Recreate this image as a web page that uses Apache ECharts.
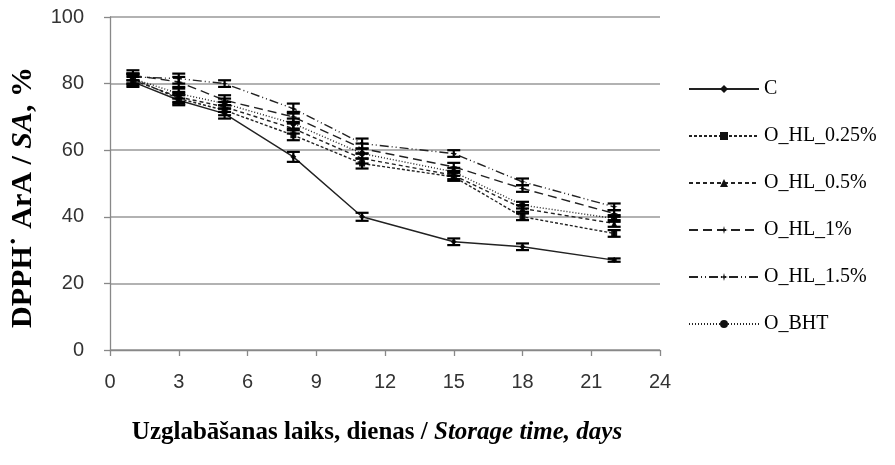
<!DOCTYPE html>
<html>
<head>
<meta charset="utf-8">
<script src="https://cdn.jsdelivr.net/npm/echarts@6/dist/echarts.min.js"></script>
<style>
  html, body { margin: 0; padding: 0; background: #fff; }
  #chart { width: 895px; height: 465px; }
</style>
</head>
<body>
<div id="chart"></div>
<script>
// Storage days
const days = [1, 3, 5, 8, 11, 15, 18, 22];

// DPPH radical scavenging activity, %
const valC     = [80.5, 75.0, 71.0, 58.0, 40.0, 32.5, 31.0, 27.0];
const valHL025 = [81.5, 75.5, 72.0, 64.5, 56.0, 52.0, 40.0, 35.0];
const valHL05  = [81.0, 76.0, 73.0, 66.5, 57.5, 52.5, 42.5, 38.0];
const valHL1   = [82.5, 80.5, 75.0, 70.0, 60.5, 55.0, 48.5, 41.0];
const valHL15  = [82.0, 81.5, 80.0, 72.5, 62.0, 59.0, 50.5, 43.0];
const valBHT   = [81.5, 77.0, 74.0, 68.0, 59.0, 53.5, 43.5, 39.5];

// Standard deviations
const errC     = [1.5, 1.5, 1.5, 1.5, 1.2, 1.0, 1.0, 0.5];
const errHL025 = [1.5, 1.5, 1.5, 1.5, 1.5, 1.2, 1.0, 1.0];
const errHL05  = [1.5, 1.5, 1.5, 1.5, 1.5, 1.2, 1.0, 1.0];
const errHL1   = [1.5, 1.5, 1.5, 1.5, 1.5, 1.2, 1.0, 1.0];
const errHL15  = [1.0, 1.5, 1.0, 1.5, 1.5, 1.0, 1.0, 1.0];
const errBHT   = [1.5, 1.5, 1.5, 1.5, 1.5, 1.2, 1.0, 1.0];

// Axis ticks
const xTicks = [0, 3, 6, 9, 12, 15, 18, 21, 24];
const yTicks = [0, 20, 40, 60, 80, 100];

const names = ['C', 'O_HL_0.25%', 'O_HL_0.5%', 'O_HL_1%', 'O_HL_1.5%', 'O_BHT'];

const starPath = 'path://M5,0 L6,4 L10,5 L6,6 L5,10 L4,6 L0,5 L4,4 Z';
const groups = [
  { name: names[0], vals: valC,     errs: errC,     symbol: 'diamond',  size: 6, dash: 'solid' },
  { name: names[1], vals: valHL025, errs: errHL025, symbol: 'rect',     size: 6, dash: [3, 2] },
  { name: names[2], vals: valHL05,  errs: errHL05,  symbol: 'triangle', size: 6, dash: [4, 3] },
  { name: names[3], vals: valHL1,   errs: errHL1,   symbol: starPath,   size: 8, dash: [9, 5] },
  { name: names[4], vals: valHL15,  errs: errHL15,  symbol: starPath,   size: 7, dash: [9, 3, 1, 3, 1, 3] },
  { name: names[5], vals: valBHT,   errs: errBHT,   symbol: 'circle',   size: 6, dash: [1, 2] }
];

// Vertical error bar with caps
function renderErr(params, api) {
  const x = api.value(0);
  const lo = api.coord([x, api.value(1)]);
  const hi = api.coord([x, api.value(2)]);
  const w = 6.5;
  const st = { stroke: '#000', lineWidth: 2.2 };
  return {
    type: 'group',
    children: [
      { type: 'line', shape: { x1: lo[0], y1: lo[1], x2: hi[0], y2: hi[1] }, style: st },
      { type: 'line', shape: { x1: lo[0] - w, y1: lo[1], x2: lo[0] + w, y2: lo[1] }, style: st },
      { type: 'line', shape: { x1: hi[0] - w, y1: hi[1], x2: hi[0] + w, y2: hi[1] }, style: st }
    ]
  };
}

const series = [];
groups.forEach(g => {
  series.push({
    name: g.name,
    type: 'line',
    data: days.map((d, i) => [d, g.vals[i]]),
    symbol: g.symbol,
    symbolSize: g.size,
    itemStyle: { color: '#111' },
    lineStyle: { color: '#222', width: 1.4, type: g.dash },
    z: 3
  });
  series.push({
    type: 'custom',
    renderItem: renderErr,
    data: days.map((d, i) => [d, g.vals[i] - g.errs[i], g.vals[i] + g.errs[i]]),
    encode: { x: 0, y: [1, 2] },
    z: 4,
    silent: true
  });
});

const titleRich = {
  b:  { fontFamily: 'Liberation Serif', fontWeight: 'bold', color: '#000' },
  bi: { fontFamily: 'Liberation Serif', fontWeight: 'bold', fontStyle: 'italic', color: '#000' }
};

const chart = echarts.init(document.getElementById('chart'), null, { renderer: 'canvas' });
chart.setOption({
  animation: false,
  backgroundColor: '#fff',
  grid: { left: 108, right: 235, top: 17, bottom: 115 },
  legend: {
    data: names,
    orient: 'vertical',
    left: 683,
    top: 74,
    itemWidth: 70,
    itemHeight: 10,
    itemGap: 27,
    textStyle: { fontFamily: 'Liberation Serif', fontSize: 20, color: '#000' }
  },
  xAxis: {
    type: 'value',
    min: xTicks[0],
    max: xTicks[xTicks.length - 1],
    interval: xTicks[1] - xTicks[0],
    axisLine: { show: true, lineStyle: { color: '#888', width: 1.3 } },
    axisTick: { show: true, length: 6, lineStyle: { color: '#888', width: 1.3 } },
    splitLine: { show: false },
    axisLabel: { fontFamily: 'Liberation Sans', fontSize: 20, color: '#333', margin: 22 },
    name: '{b|Uzglabāšanas laiks, dienas / }{bi|Storage time, days}',
    nameLocation: 'middle',
    nameGap: 70,
    nameTextStyle: {
      padding: [0, 16, 0, 0],
      rich: {
        b:  Object.assign({ fontSize: 25 }, titleRich.b),
        bi: Object.assign({ fontSize: 25 }, titleRich.bi)
      }
    }
  },
  yAxis: {
    type: 'value',
    min: yTicks[0],
    max: yTicks[yTicks.length - 1],
    interval: yTicks[1] - yTicks[0],
    axisLine: { show: true, lineStyle: { color: '#888', width: 1.3 } },
    axisTick: { show: true, inside: false, length: 6, lineStyle: { color: '#888', width: 1.3 } },
    splitLine: { show: true, lineStyle: { color: '#999', width: 1.5 } },
    axisLabel: { fontFamily: 'Liberation Sans', fontSize: 20, color: '#333', margin: 26 },
    name: '{b|DPPH˙ ArA / }{bi|SA}{b|, %}',
    nameLocation: 'middle',
    nameGap: 72,
    nameRotate: 90,
    nameTextStyle: {
      padding: [0, 28, 0, 0],
      rich: {
        b:  Object.assign({ fontSize: 30 }, titleRich.b),
        bi: Object.assign({ fontSize: 30 }, titleRich.bi)
      }
    }
  },
  series: series
});
</script>
</body>
</html>
